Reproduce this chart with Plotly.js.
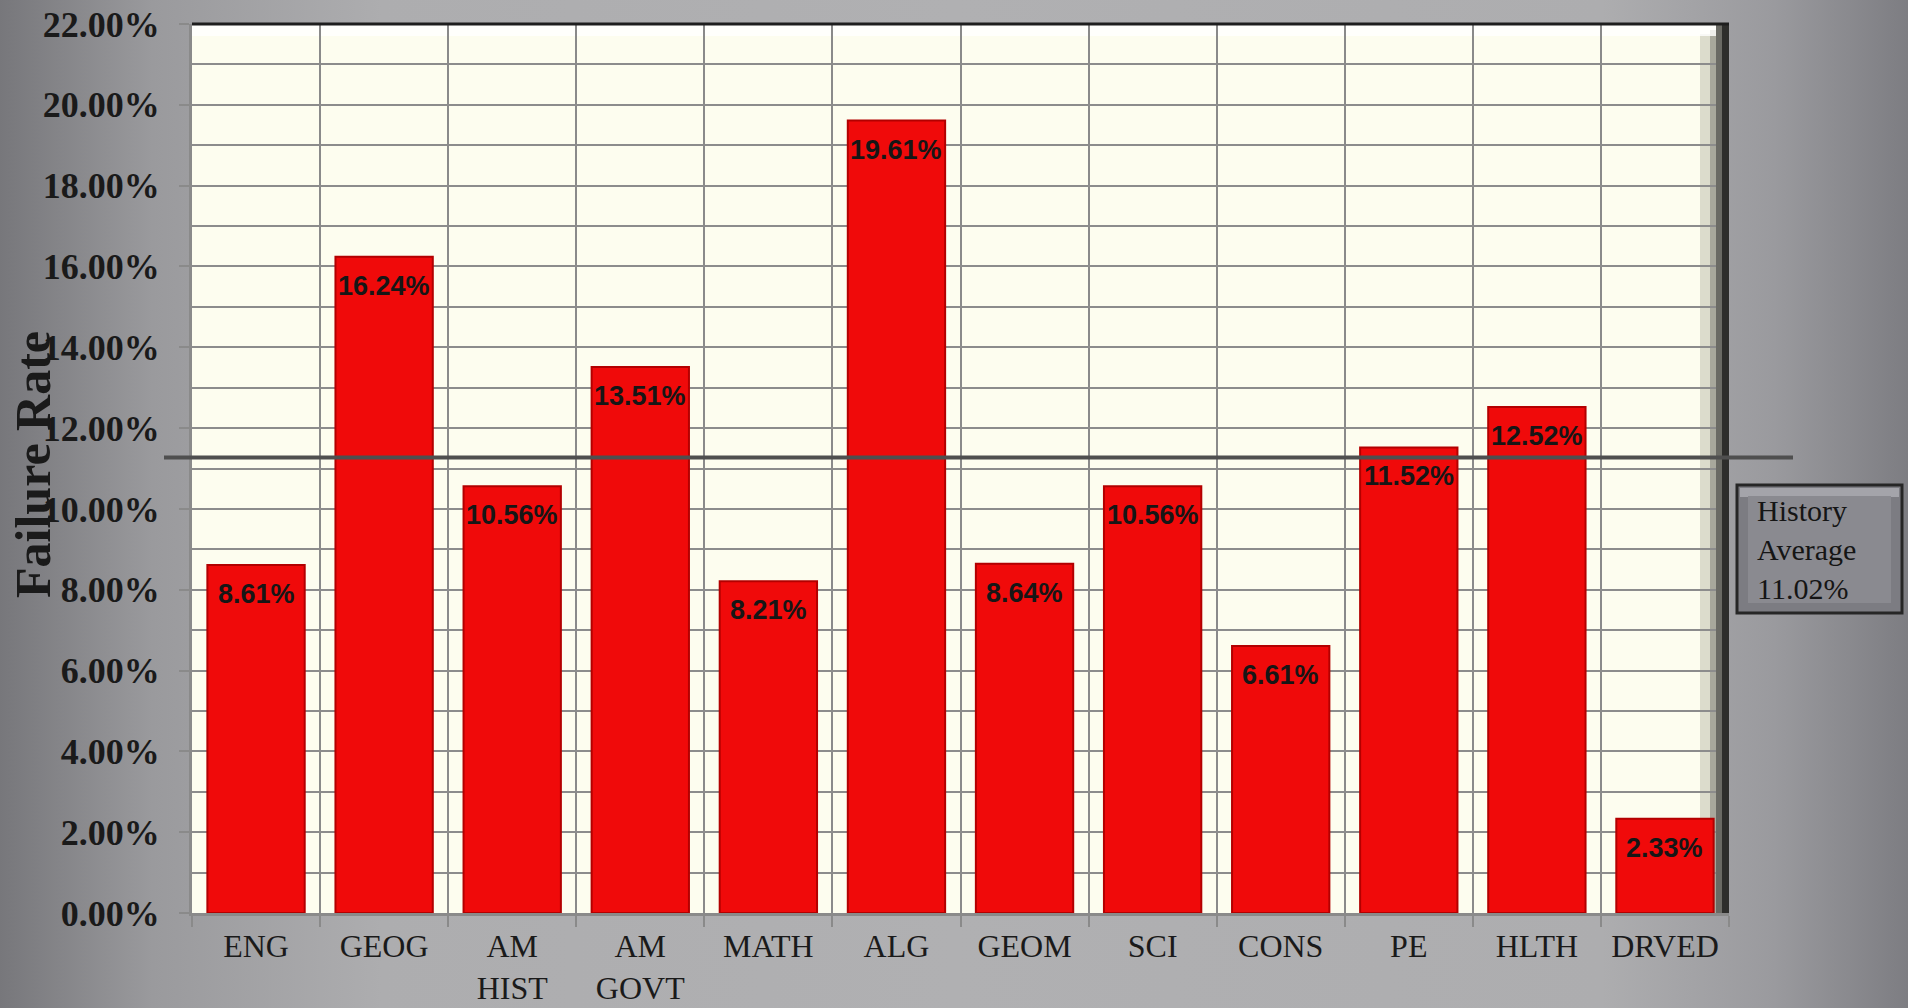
<!DOCTYPE html>
<html>
<head>
<meta charset="utf-8">
<script src="https://cdn.plot.ly/plotly-3.0.1.min.js"></script>
<style>
  html, body { margin: 0; padding: 0; }
  body {
    width: 1908px; height: 1008px; overflow: hidden;
    background: linear-gradient(to right, #77777b 0%, #9a9a9d 8%, #adadaf 20%, #b0b0b2 50%, #adadaf 84%, #9a9a9e 93%, #7d7d82 100%);
  }
  #chart { width: 1908px; height: 1008px; }
</style>
</head>
<body>
<div id="chart"></div>
<script>
// ---- data ----
const categories = ["ENG", "GEOG", "AM<br>HIST", "AM<br>GOVT", "MATH", "ALG", "GEOM", "SCI", "CONS", "PE", "HLTH", "DRVED"];
const failureRates = [8.61, 16.24, 10.56, 13.51, 8.21, 19.61, 8.64, 10.56, 6.61, 11.52, 12.52, 2.33];
const historyAverageLabel = ["History", "Average", "11.02%"];
const averageLineLevel = 11.27;   // where the horizontal line is drawn in the picture
const yTickValues = [0, 2, 4, 6, 8, 10, 12, 14, 16, 18, 20, 22];
const yTickLabels = ["0.00%", "2.00%", "4.00%", "6.00%", "8.00%", "10.00%", "12.00%", "14.00%", "16.00%", "18.00%", "20.00%", "22.00%"];
const yAxisTitle = "Failure Rate";

// ---- layout constants (pixels) ----
const W = 1908, H = 1008;
const L = 192, R = 179, T = 24, B = 95;
const PW = W - L - R, PH = H - T - B;
const px = x => (x - L) / PW;          // pixel -> paper x
const py = y => (H - B - y) / PH;      // pixel -> paper y

const barTrace = {
  type: "bar",
  x: categories,
  y: failureRates,
  marker: { color: "#f00a0a", line: { color: "#b30000", width: 2 } },
  hoverinfo: "x+y",
  showlegend: false
};

const valueLabels = categories.map((c, i) => ({
  x: c, y: failureRates[i], xref: "x", yref: "y",
  text: "<b>" + failureRates[i].toFixed(2) + "%</b>",
  showarrow: false, yanchor: "middle", yshift: -29,
  font: { family: "Liberation Sans, Arial, sans-serif", size: 27, color: "#161616" }
}));

const annotations = valueLabels.concat([
  {
    xref: "paper", yref: "paper", x: px(33), y: py(465),
    text: "<b>" + yAxisTitle + "</b>", textangle: -90, showarrow: false,
    xanchor: "center", yanchor: "middle",
    font: { family: "Liberation Serif, Times New Roman, serif", size: 50, color: "#1a1a1a" }
  },
  {
    xref: "paper", yref: "paper", x: px(1755), y: py(549),
    text: historyAverageLabel.join("<br>"), showarrow: false,
    xanchor: "left", yanchor: "middle", align: "left",
    font: { family: "Liberation Serif, Times New Roman, serif", size: 30, color: "#151515" }
  }
]);

const shapes = [
  // right wall shading of the 3D back panel
  { type: "rect", xref: "paper", yref: "paper", x0: px(1700), x1: px(1710), y0: 0, y1: py(T + 10), fillcolor: "#dcdccc", line: { width: 0 }, layer: "below" },
  { type: "rect", xref: "paper", yref: "paper", x0: px(1710), x1: px(1716), y0: 0, y1: py(T + 6), fillcolor: "#a8a89c", line: { width: 0 }, layer: "below" },
  { type: "rect", xref: "paper", yref: "paper", x0: px(1716), x1: px(1722), y0: 0, y1: 1, fillcolor: "#6a6a64", line: { width: 0 }, layer: "above" },
  { type: "rect", xref: "paper", yref: "paper", x0: px(1722), x1: 1, y0: 0, y1: 1, fillcolor: "#2e2e2c", line: { width: 0 }, layer: "above" },
  // top light band
  { type: "rect", xref: "paper", yref: "paper", x0: 0, x1: px(1716), y0: py(T + 12), y1: 1, fillcolor: "#ffffff", opacity: 0.8, line: { width: 0 }, layer: "below" },
  // top border
  { type: "line", xref: "paper", yref: "paper", x0: 0, x1: 1, y0: 1, y1: 1, line: { color: "#1e1e1e", width: 3 } },
  // average line
  { type: "line", xref: "paper", yref: "y", x0: px(164), x1: px(1793), y0: averageLineLevel, y1: averageLineLevel, line: { color: "#4f4f4f", width: 4 } },
  // history average box (bevelled)
  { type: "rect", xref: "paper", yref: "paper", x0: px(1737), x1: px(1902), y0: py(613), y1: py(485), fillcolor: "#7c7c82", line: { color: "#262626", width: 3 } },
  { type: "rect", xref: "paper", yref: "paper", x0: px(1740), x1: px(1899), y0: py(497), y1: py(488), fillcolor: "#a4a4aa", line: { width: 0 } },
  { type: "rect", xref: "paper", yref: "paper", x0: px(1748), x1: px(1891), y0: py(603), y1: py(496), fillcolor: "#8a8a90", line: { width: 0 } }
];

const layout = {
  width: W, height: H,
  margin: { l: L, r: R, t: T, b: B, pad: 0 },
  paper_bgcolor: "rgba(0,0,0,0)",
  plot_bgcolor: "#fdfdef",
  bargap: 0.24,
  showlegend: false,
  xaxis: {
    type: "category",
    tickson: "boundaries",
    showgrid: true, gridcolor: "#8a8a8a", gridwidth: 2,
    ticks: "outside", ticklen: 11, tickwidth: 2, tickcolor: "#8a8a8a",
    showline: true, linecolor: "#8a8a8a", linewidth: 3,
    ticklabelstandoff: 3,
    tickfont: { family: "Liberation Serif, Times New Roman, serif", size: 32, color: "#1a1a1a" },
    fixedrange: true
  },
  yaxis: {
    range: [0, 22],
    tickmode: "array",
    tickvals: yTickValues,
    ticktext: yTickLabels,
    showgrid: true, gridcolor: "#8c8c8c", gridwidth: 2,
    minor: { dtick: 1, showgrid: true, gridcolor: "#8c8c8c", gridwidth: 2 },
    ticks: "outside", ticklen: 10, tickwidth: 2, tickcolor: "#8a8a8a",
    showline: true, linecolor: "#8a8a8a", linewidth: 3,
    zeroline: false,
    ticklabelstandoff: 12,
    tickfont: { family: "Liberation Serif, Times New Roman, serif", size: 36, color: "#1a1a1a", weight: "bold" },
    fixedrange: true
  },
  annotations: annotations,
  shapes: shapes
};

Plotly.newPlot("chart", [barTrace], layout, { displayModeBar: false, staticPlot: true });
</script>
</body>
</html>
